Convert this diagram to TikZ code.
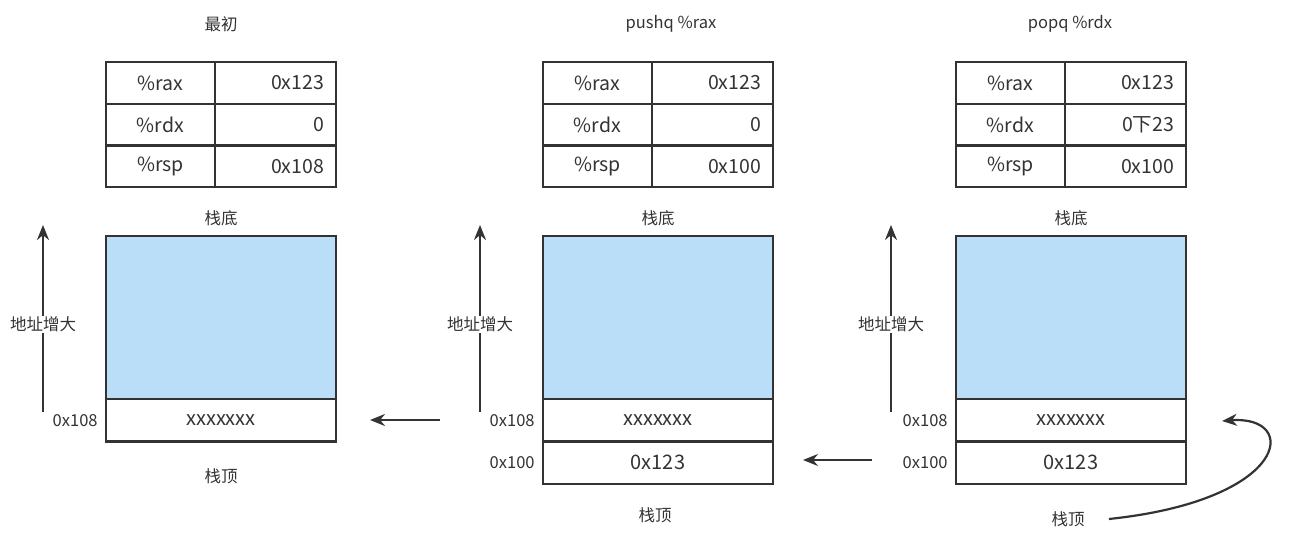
\documentclass[tikz,border=0pt]{standalone}
\usepackage{fontspec}
\setmainfont{Noto Sans CJK SC}
\usetikzlibrary{positioning,arrows.meta}
\definecolor{ink}{HTML}{333333}
\definecolor{stackblue}{HTML}{BBDEF8}
\begin{document}
\begin{tikzpicture}[x=1pt,y=-1pt,line width=2.2pt,>={Stealth[length=15pt,width=12pt]},
    name cell/.style={rectangle,draw=ink,outer sep=0pt,minimum width=109pt,minimum height=41.7pt,font=\fontsize{19.5}{19.5}\selectfont,text=ink},
    value cell/.style={rectangle,draw=ink,outer sep=0pt,inner xsep=12pt,text width=97pt,align=right,minimum height=41.7pt,font=\fontsize{19.5}{19.5}\selectfont,text=ink},
    stack base/.style={rectangle,draw=ink,fill=stackblue,outer sep=0pt,minimum width=230pt,minimum height=163pt},
    stack cell/.style={rectangle,draw=ink,outer sep=0pt,minimum width=230pt,minimum height=42.5pt,font=\fontsize{20}{20}\selectfont,text=ink},
    main label/.style={font=\fontsize{16.5}{16.5}\selectfont,text=ink},
    axis label/.style={main label,fill=white,inner sep=1pt},
    move arrow/.style={->,draw=ink}]
  \useasboundingbox (0,0) rectangle (1315,545);

  % first state
  \node[main label] (title1) at (221,24) {最初};
  \node[name cell] (rax1) at (160.5,83) {\%rax};
  \node[value cell,right=0pt of rax1] (raxv1) {0x123};
  \node[name cell,below=0pt of rax1] (rdx1) {\%rdx};
  \node[value cell,right=0pt of rdx1] (rdxv1) {0};
  \node[name cell,below=0pt of rdx1] (rsp1) {\%rsp};
  \node[value cell,right=0pt of rsp1] (rspv1) {0x108};
  \node[main label] (bottom1) at (221,218) {栈底};
  \node[stack base,anchor=north] (base1) at (221,236) {};
  \node[stack cell,below=0pt of base1] (slot1a) {xxxxxxx};
  \node[main label,left=4pt of slot1a] (addr1a) {0x108};
  \node[main label] (top1) at (221,476) {栈顶};
  \coordinate (g1s) at (43,412);
  \coordinate (g1e) at (43,225);
  \draw[move arrow] (g1s) -- (g1e) node[axis label,pos=0.47] (grow1) {地址增大};

  \coordinate (m1s) at (440,420);
  \coordinate (m1e) at (370,420);
  \draw[move arrow] (m1s) -- (m1e);

  % pushq
  \node[main label] (title2) at (671,24) {pushq \%rax};
  \node[name cell] (rax2) at (597.5,83) {\%rax};
  \node[value cell,right=0pt of rax2] (raxv2) {0x123};
  \node[name cell,below=0pt of rax2] (rdx2) {\%rdx};
  \node[value cell,right=0pt of rdx2] (rdxv2) {0};
  \node[name cell,below=0pt of rdx2] (rsp2) {\%rsp};
  \node[value cell,right=0pt of rsp2] (rspv2) {0x100};
  \node[main label] (bottom2) at (658,218) {栈底};
  \node[stack base,anchor=north] (base2) at (658,236) {};
  \node[stack cell,below=0pt of base2] (slot2a) {xxxxxxx};
  \node[stack cell,below=0pt of slot2a] (slot2b) {0x123};
  \node[main label,left=4pt of slot2a] (addr2a) {0x108};
  \node[main label,left=4pt of slot2b] (addr2b) {0x100};
  \node[main label] (top2) at (655,515) {栈顶};
  \coordinate (g2s) at (480,412);
  \coordinate (g2e) at (480,225);
  \draw[move arrow] (g2s) -- (g2e) node[axis label,pos=0.47] (grow2) {地址增大};

  \coordinate (m2s) at (872,460);
  \coordinate (m2e) at (803,460);
  \draw[move arrow] (m2s) -- (m2e);

  % popq
  \node[main label] (title3) at (1070,24) {popq \%rdx};
  \node[name cell] (rax3) at (1010.5,83) {\%rax};
  \node[value cell,right=0pt of rax3] (raxv3) {0x123};
  \node[name cell,below=0pt of rax3] (rdx3) {\%rdx};
  \node[value cell,right=0pt of rdx3] (rdxv3) {0下23};
  \node[name cell,below=0pt of rdx3] (rsp3) {\%rsp};
  \node[value cell,right=0pt of rsp3] (rspv3) {0x100};
  \node[main label] (bottom3) at (1071,218) {栈底};
  \node[stack base,anchor=north] (base3) at (1071,236) {};
  \node[stack cell,below=0pt of base3] (slot3a) {xxxxxxx};
  \node[stack cell,below=0pt of slot3a] (slot3b) {0x123};
  \node[main label,left=4pt of slot3a] (addr3a) {0x108};
  \node[main label,left=4pt of slot3b] (addr3b) {0x100};
  \node[main label] (top3) at (1068,519) {栈顶};
  \coordinate (g3s) at (891,412);
  \coordinate (g3e) at (891,225);
  \draw[move arrow] (g3s) -- (g3e) node[axis label,pos=0.47] (grow3) {地址增大};

  \coordinate (c3e) at (1222,421);
  \draw[move arrow] ([xshift=20pt]top3.east) .. controls (1290,500) and (1300,415) .. (c3e);
\end{tikzpicture}
\end{document}
